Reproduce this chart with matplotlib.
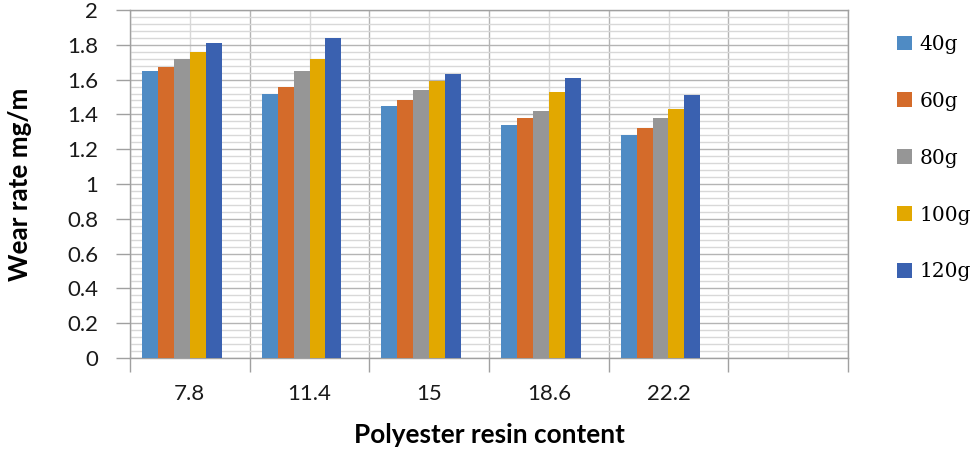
import matplotlib
matplotlib.use("Agg")
import matplotlib.pyplot as plt
from matplotlib.ticker import MultipleLocator, FixedLocator
from matplotlib.patches import Patch
import numpy as np

categories = ["7.8", "11.4", "15", "18.6", "22.2", ""]
series_names = ["40g", "60g", "80g", "100g", "120g"]
s40 = [1.65, 1.52, 1.45, 1.34, 1.28]
s60 = [1.67, 1.56, 1.48, 1.38, 1.32]
s80 = [1.72, 1.65, 1.54, 1.42, 1.38]
s100 = [1.76, 1.72, 1.59, 1.53, 1.43]
s120 = [1.81, 1.84, 1.63, 1.61, 1.51]
series_values = [s40, s60, s80, s100, s120]
colors = ["#4F8BC4", "#D46B2A", "#969696", "#E2A800", "#3A61B0"]

fig = plt.figure(figsize=(9.73, 4.49), dpi=100)
ax = fig.add_axes([130/973, 1-358/449, (848-130)/973, (358-10)/449])

n_slots = 6  # Excel reserves a slot for an empty sixth series
w = 1.0 / (n_slots + 1.5)
for i, (vals, c, name) in enumerate(zip(series_values, colors, series_names)):
    x = np.arange(len(vals)) + (i - (n_slots - 1) / 2) * w
    ax.bar(x, vals, width=w, color=c, label=name, zorder=3, linewidth=0)

ax.set_xlim(-0.5, len(categories) - 0.5)
ax.set_ylim(0, 2)

# x axis
ax.xaxis.set_major_locator(FixedLocator(np.arange(len(categories))))
ax.set_xticklabels(categories)
ax.xaxis.set_minor_locator(FixedLocator(np.arange(len(categories) + 1) - 0.5))
ax.tick_params(axis="x", which="major", length=0, pad=19)
ax.tick_params(axis="x", which="minor", length=10, width=1, color="#A0A0A0", direction="out")

# y axis
ax.set_yticks(np.round(np.arange(0, 2.01, 0.2), 1))
ax.set_yticklabels(["0", "0.2", "0.4", "0.6", "0.8", "1", "1.2", "1.4", "1.6", "1.8", "2"])
ax.yaxis.set_minor_locator(MultipleLocator(0.04))
ax.tick_params(axis="y", which="major", length=10, width=1, color="#A0A0A0", pad=13, direction="out")
ax.tick_params(axis="y", which="minor", length=0)

for lab in ax.get_xticklabels() + ax.get_yticklabels():
    lab.set_fontfamily("Lato")
    lab.set_fontsize(16)
    lab.set_color("#1a1a1a")

# grid
ax.grid(True, which="major", axis="y", color="#B4B4B4", linewidth=1, zorder=0)
ax.grid(True, which="minor", axis="y", color="#D8D8D8", linewidth=1, zorder=0)
ax.grid(True, which="minor", axis="x", color="#B4B4B4", linewidth=1, zorder=0)
ax.grid(True, which="major", axis="x", color="#D8D8D8", linewidth=1, zorder=0)
ax.set_axisbelow(True)
for sp in ax.spines.values():
    sp.set_color("#A0A0A0")
    sp.set_linewidth(1)

ax.set_xlabel("Polyester resin content", fontfamily="Lato", fontweight="bold", fontsize=18.8, va="center")
ax.set_ylabel("Wear rate mg/m", fontfamily="Lato", fontweight="bold", fontsize=18.8, va="center")
ax.xaxis.set_label_coords(0.5, -(435 - 358) / 348)
ax.yaxis.set_label_coords(-(130 - 20) / 718, 0.5)

handles = [Patch(facecolor=c, edgecolor="none", label=n) for c, n in zip(colors, series_names)]
fig.legend(handles=handles, loc="upper left", bbox_to_anchor=(897/973, 1-35/449),
           frameon=False, borderpad=0, borderaxespad=0,
           prop={"family": "DejaVu Serif", "size": 14.5},
           handlelength=0.75, handleheight=0.75, handletextpad=0.35, labelspacing=1.88)

fig.savefig("out.png", dpi=100)
